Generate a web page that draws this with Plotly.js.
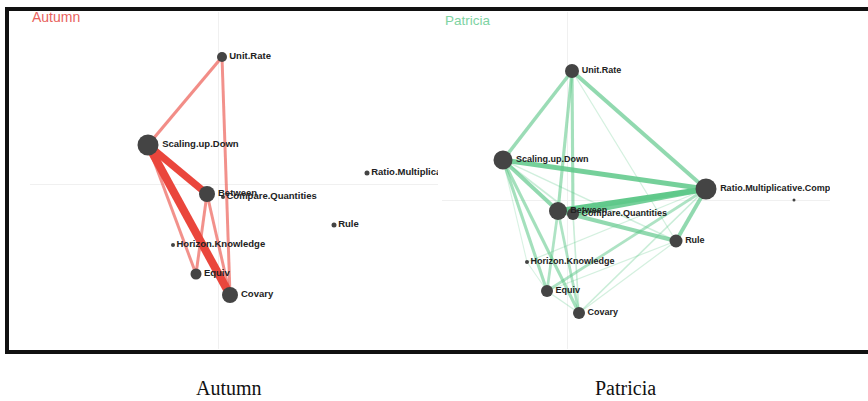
<!DOCTYPE html>
<html>
<head>
<meta charset="utf-8">
<script src="https://cdn.plot.ly/plotly-3.0.1.min.js"></script>
<style>html,body{margin:0;padding:0;background:#fff;}#chart{width:868px;height:401px;}</style>
</head>
<body>
<div id="chart"></div>
<script>
// ---- data ----
const nodeNames = ["Unit.Rate","Scaling.up.Down","Between","Compare.Quantities","Horizon.Knowledge","Equiv","Covary","Ratio.Multiplicative.Compare","Rule"];

// Autumn layout (network coordinates)
const autumnX = [0.04, -0.70, -0.11, 0.05, -0.45, -0.22, 0.12, 1.49, 1.16];
const autumnY = [1.27, 0.39, -0.10, -0.13, -0.61, -0.90, -1.11, 0.11, -0.41];
const autumnNodeSize = [10, 21, 16, 4, 4, 11, 16, 5, 5];
const autumnEdgeFrom = [0, 0, 1, 1, 1, 2, 2];
const autumnEdgeTo   = [1, 6, 2, 6, 5, 5, 6];
const autumnEdgeWeight = [0.35, 0.33, 0.8, 0.9, 0.33, 0.33, 0.33];

// Patricia layout
const patriciaLabels = ["Unit.Rate","Scaling.up.Down","Between","Compare.Quantities","Horizon.Knowledge","Equiv","Covary","Ratio.Multiplicative.Compare","Rule",""];
const patriciaX = [0.05, -0.64, -0.09, 0.06, -0.40, -0.20, 0.12, 1.39, 1.09, 2.27];
const patriciaY = [1.29, 0.40, -0.11, -0.14, -0.62, -0.91, -1.13, 0.11, -0.41, 0.00];
const patriciaNodeSize = [14, 19, 18, 12, 4, 12, 12, 21, 13, 3];
const patriciaEdgeFrom = [0, 0, 0, 0, 0, 1, 1, 1, 1, 1, 1, 1, 2, 3, 2, 2, 2, 3, 7, 7, 7, 7, 8, 8, 5, 4];
const patriciaEdgeTo   = [1, 7, 2, 3, 8, 7, 2, 3, 5, 6, 4, 8, 7, 7, 8, 5, 6, 6, 8, 5, 6, 4, 5, 6, 6, 5];
const patriciaEdgeWeight = [0.4, 0.45, 0.35, 0.35, 0.1, 0.6, 0.45, 0.15, 0.35, 0.35, 0.08, 0.12, 0.7, 0.6, 0.45, 0.3, 0.3, 0.15, 0.45, 0.3, 0.15, 0.1, 0.1, 0.1, 0.12, 0.08];

const panelTitles = ["Autumn", "Patricia"];

// ---- build traces ----
const traces = [];
function addEdges(X, Y, from, to, weights, xa, ya, rgb, wScale, wBase, aBase) {
  for (let i = 0; i < from.length; i++) {
    const a = from[i], b = to[i], wt = weights[i];
    const alpha = Math.min(1, aBase + (1 - aBase) * wt * 1.4);
    traces.push({
      type: 'scatter', mode: 'lines', xaxis: xa, yaxis: ya,
      x: [X[a], X[b]], y: [Y[a], Y[b]],
      line: {color: 'rgba(' + rgb + ',' + alpha.toFixed(3) + ')', width: wBase + wScale * wt},
      hoverinfo: 'skip', showlegend: false
    });
  }
}
addEdges(autumnX, autumnY, autumnEdgeFrom, autumnEdgeTo, autumnEdgeWeight, 'x', 'y', '234,70,60', 9, 0, 0.25);
addEdges(patriciaX, patriciaY, patriciaEdgeFrom, patriciaEdgeTo, patriciaEdgeWeight, 'x2', 'y2', '95,200,138', 7.5, 0.5, 0.15);

traces.push({
  type: 'scatter', mode: 'markers+text', xaxis: 'x', yaxis: 'y',
  x: autumnX, y: autumnY, text: nodeNames, textposition: 'middle right',
  marker: {size: autumnNodeSize, color: '#444444', opacity: 1, line: {width: 0}},
  textfont: {family: 'Liberation Sans, Arial, sans-serif', size: 9.5, color: '#222222', weight: 'bold'},
  hoverinfo: 'skip', showlegend: false, cliponaxis: true
});
traces.push({
  type: 'scatter', mode: 'markers+text', xaxis: 'x2', yaxis: 'y2',
  x: patriciaX, y: patriciaY, text: patriciaLabels, textposition: 'middle right',
  marker: {size: patriciaNodeSize, color: '#444444', opacity: 1, line: {width: 0}},
  textfont: {family: 'Liberation Sans, Arial, sans-serif', size: 9, color: '#222222', weight: 'bold'},
  hoverinfo: 'skip', showlegend: false, cliponaxis: true
});

const W = 868, H = 401;
const ax = (dom, rng) => ({domain: dom, range: rng, showgrid: false, showticklabels: false, ticks: '',
  zeroline: true, zerolinecolor: '#f0f0f0', zerolinewidth: 1, showline: false, fixedrange: true});
const yDom = [(H - 349) / H, (H - 12) / H];

const layout = {
  width: W, height: H,
  margin: {l: 0, r: 0, t: 0, b: 0},
  paper_bgcolor: '#ffffff', plot_bgcolor: 'rgba(0,0,0,0)',
  xaxis: ax([30 / W, 438 / W], [-1.88, 2.20]),
  yaxis: ax(yDom, [-1.65, 1.72]),
  xaxis2: ax([442 / W, 830 / W], [-1.25, 2.63]),
  yaxis2: Object.assign(ax(yDom, [-1.49, 1.88]), {anchor: 'x2'}),
  shapes: [{type: 'rect', xref: 'paper', yref: 'paper', x0: 7 / W, x1: 880 / W, y0: 1 - 352 / H, y1: 1 - 9 / H,
    line: {color: '#111111', width: 4}, fillcolor: 'rgba(0,0,0,0)', layer: 'above'}],
  annotations: [
    {text: panelTitles[0], xref: 'paper', yref: 'paper', x: 30 / W, y: 1 - 16.5 / H, xanchor: 'left', yanchor: 'middle',
      showarrow: false, font: {family: 'Liberation Sans, Arial, sans-serif', size: 14, color: '#e8625d'}},
    {text: panelTitles[1], xref: 'paper', yref: 'paper', x: 443 / W, y: 1 - 20 / H, xanchor: 'left', yanchor: 'middle',
      showarrow: false, font: {family: 'Liberation Sans, Arial, sans-serif', size: 13.5, color: '#7ed3a2'}},
    {text: panelTitles[0], xref: 'paper', yref: 'paper', x: 229 / W, y: 1 - 388 / H, xanchor: 'center', yanchor: 'middle',
      showarrow: false, font: {family: 'Liberation Serif, Times New Roman, serif', size: 20, color: '#111111'}},
    {text: panelTitles[1], xref: 'paper', yref: 'paper', x: 625 / W, y: 1 - 388 / H, xanchor: 'center', yanchor: 'middle',
      showarrow: false, font: {family: 'Liberation Serif, Times New Roman, serif', size: 20, color: '#111111'}}
  ]
};

Plotly.newPlot('chart', traces, layout, {staticPlot: true, displayModeBar: false});
</script>
</body>
</html>
